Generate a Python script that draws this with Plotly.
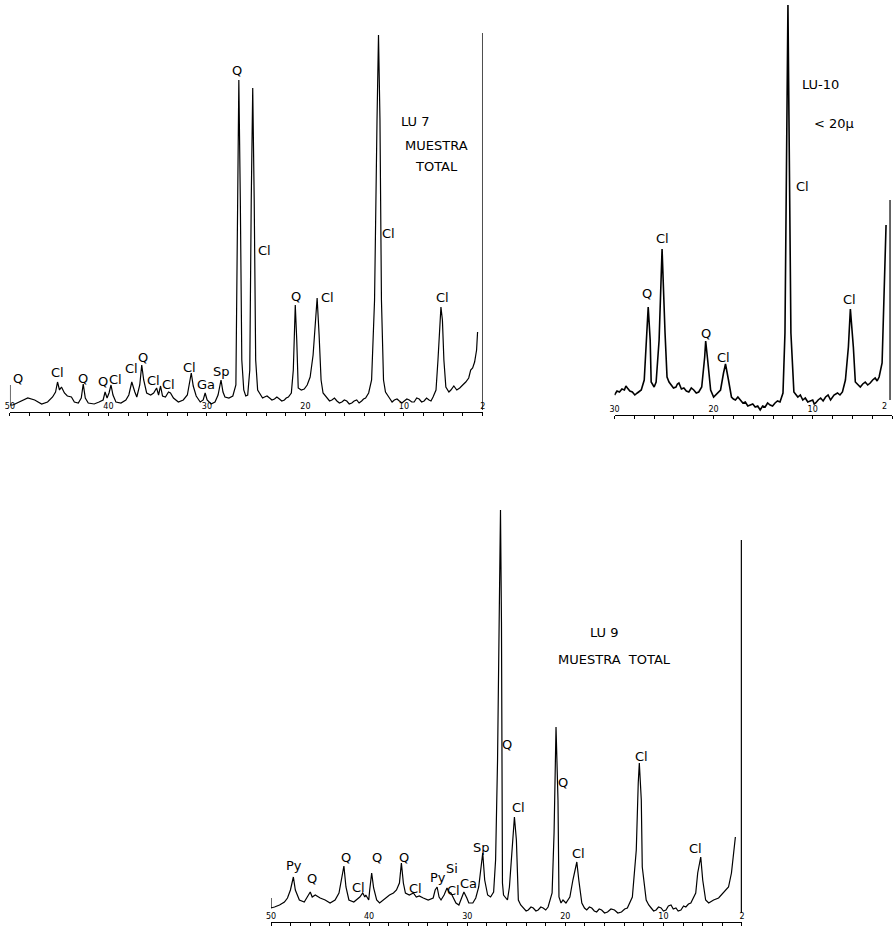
import plotly.graph_objects as go

# ---------------- DATA ----------------
# Each scan: (2-theta in degrees, recorded intensity in arbitrary chart units)
# LU 7 (muestra total)
lu7_scan = [
    (50.00, 27), (50.00, 7), (49.70, 7), (48.99, 10), (48.19, 14), (47.49, 12), (46.78, 8),
    (46.18, 10), (45.67, 15), (45.37, 20), (45.17, 30), (44.97, 22), (44.77, 25), (44.47, 19),
    (44.17, 16), (43.76, 15), (43.46, 10), (43.06, 9), (42.76, 14), (42.56, 28), (42.35, 14),
    (42.05, 9), (41.45, 8), (40.95, 10), (40.54, 12), (40.34, 20), (40.14, 14), (39.94, 19),
    (39.74, 27), (39.54, 17), (39.24, 10), (38.73, 9), (38.23, 12), (37.93, 17), (37.63, 30),
    (37.32, 20), (37.12, 15), (36.82, 27), (36.62, 47), (36.42, 32), (36.12, 19), (35.71, 17),
    (35.41, 19), (35.11, 24), (34.91, 17), (34.71, 26), (34.51, 16), (34.21, 15), (33.90, 20),
    (33.70, 19), (33.40, 14), (32.90, 10), (32.40, 12), (31.99, 17), (31.79, 27), (31.59, 39),
    (31.39, 26), (31.09, 16), (30.68, 10), (30.38, 12), (30.18, 19), (29.98, 12), (29.58, 8),
    (29.18, 10), (28.87, 17), (28.57, 32), (28.37, 20), (28.17, 15), (27.77, 14), (27.37, 16),
    (27.06, 27), (26.86, 212), (26.76, 332), (26.61, 212), (26.46, 52), (26.26, 22), (26.06, 16),
    (25.86, 17), (25.65, 42), (25.50, 212), (25.35, 324), (25.20, 212), (25.05, 52), (24.85, 22),
    (24.55, 17), (24.35, 14), (24.15, 15), (23.90, 16), (23.64, 14), (23.40, 12), (23.14, 13),
    (22.90, 15), (22.64, 13), (22.40, 11), (22.13, 12), (21.95, 14), (21.73, 15), (21.43, 19),
    (21.23, 42), (21.03, 107), (20.88, 72), (20.73, 24), (20.42, 22), (20.12, 23), (19.82, 27),
    (19.52, 35), (19.22, 57), (19.01, 92), (18.81, 114), (18.61, 77), (18.41, 32), (18.21, 19),
    (17.81, 14), (17.55, 11), (17.31, 12), (17.05, 14), (16.80, 11), (16.55, 9), (16.30, 10),
    (16.05, 12), (15.80, 11), (15.55, 8), (15.29, 9), (15.05, 11), (14.79, 12), (14.55, 9),
    (14.29, 11), (14.10, 13), (13.89, 14), (13.58, 19), (13.28, 32), (12.98, 112), (12.73, 292),
    (12.58, 377), (12.43, 292), (12.28, 112), (12.07, 32), (11.87, 20), (11.47, 14), (11.20, 10),
    (10.97, 12), (10.70, 13), (10.46, 11), (10.20, 9), (9.96, 11), (9.70, 13), (9.46, 12),
    (9.20, 10), (8.96, 10), (8.70, 14), (8.45, 13), (8.20, 10), (7.95, 11), (7.70, 14),
    (7.45, 12), (7.25, 11), (7.04, 15), (6.74, 22), (6.54, 52), (6.34, 92), (6.24, 105),
    (6.09, 92), (5.94, 52), (5.74, 25), (5.43, 20), (5.23, 22), (4.93, 26), (4.63, 22),
    (4.33, 24), (4.03, 27), (3.72, 30), (3.42, 34), (3.22, 42), (3.02, 44), (2.82, 50),
    (2.62, 62), (2.52, 80),
]
lu7_end = [(2.01, 2), (2.01, 379)]

# LU-10 (< 20 micron fraction)
lu10_scan = [
    (30.0, 20), (29.75, 24), (29.5, 23), (29.25, 26), (29.0, 25), (28.85, 29), (28.7, 27),
    (28.45, 24), (28.2, 23), (27.95, 20), (27.7, 22), (27.5, 24), (27.3, 25), (27.0, 35),
    (26.8, 75), (26.6, 108), (26.4, 75), (26.3, 33), (26.0, 28), (25.8, 33), (25.5, 75),
    (25.2, 166), (24.9, 82), (24.7, 38), (24.5, 33), (24.3, 30), (24.05, 27), (23.8, 28),
    (23.65, 31), (23.5, 32), (23.25, 26), (23.0, 27), (22.75, 24), (22.5, 23), (22.25, 27),
    (22.0, 25), (21.75, 22), (21.5, 23), (21.35, 26), (21.2, 28), (20.9, 58), (20.8, 74),
    (20.6, 55), (20.3, 25), (20.0, 18), (19.8, 20), (19.55, 23), (19.3, 25), (19.0, 42),
    (18.8, 51), (18.5, 35), (18.2, 18), (18.0, 16), (17.8, 15), (17.55, 18), (17.3, 15),
    (17.05, 12), (16.8, 13), (16.55, 9), (16.3, 10), (16.05, 11), (15.8, 8), (15.55, 9),
    (15.3, 5), (15.05, 9), (14.8, 8), (14.55, 12), (14.3, 10), (14.05, 9), (13.8, 12),
    (13.55, 14), (13.3, 13), (13.0, 22), (12.8, 82), (12.6, 300), (12.5, 410), (12.4, 300),
    (12.2, 82), (11.9, 23), (11.7, 20), (11.5, 18), (11.25, 20), (11.0, 15), (10.75, 17),
    (10.5, 13), (10.25, 14), (10.0, 15), (9.85, 11), (9.7, 12), (9.45, 15), (9.2, 17),
    (8.95, 14), (8.7, 18), (8.45, 20), (8.2, 15), (7.85, 20), (7.5, 22), (7.25, 20),
    (7.0, 23), (6.7, 35), (6.4, 68), (6.2, 106), (5.9, 68), (5.7, 33), (5.45, 30),
    (5.2, 28), (4.95, 31), (4.7, 33), (4.45, 30), (4.2, 32), (3.95, 35), (3.7, 37),
    (3.5, 34), (3.3, 38), (3.0, 52), (2.8, 115), (2.6, 190),
]
lu10_end = [(2.2, 15), (2.2, 215)]

# LU 9 (muestra total)
lu9_scan = [
    (50.00, 24), (50.00, 14), (49.64, 15), (49.13, 17), (48.63, 20), (48.32, 24), (48.02, 32),
    (47.72, 45), (47.52, 32), (47.11, 22), (46.61, 20), (46.30, 25), (46.00, 30), (45.80, 25),
    (45.49, 27), (44.99, 24), (44.48, 22), (43.98, 19), (43.47, 22), (43.07, 29), (42.87, 39),
    (42.57, 56), (42.36, 35), (42.06, 22), (41.56, 20), (41.15, 24), (40.95, 25), (40.65, 29),
    (40.44, 25), (40.34, 27), (40.04, 22), (39.94, 32), (39.74, 49), (39.54, 34), (39.23, 22),
    (38.93, 19), (38.53, 22), (38.22, 25), (37.92, 27), (37.52, 29), (37.21, 32), (36.91, 39),
    (36.71, 59), (36.51, 39), (36.30, 29), (35.90, 27), (35.49, 29), (35.19, 25), (34.89, 26),
    (34.48, 24), (33.98, 22), (33.47, 24), (33.27, 32), (33.07, 35), (32.87, 25), (32.67, 22),
    (32.36, 27), (32.06, 34), (31.86, 30), (31.66, 29), (31.45, 25), (31.15, 19), (30.85, 17),
    (30.55, 24), (30.34, 30), (30.04, 24), (29.84, 19), (29.43, 19), (29.13, 24), (28.83, 35),
    (28.63, 55), (28.42, 69), (28.22, 42), (27.92, 27), (27.62, 25), (27.31, 30), (27.11, 62),
    (26.91, 162), (26.71, 330), (26.61, 412), (26.51, 300), (26.41, 39), (26.30, 27), (25.90, 22),
    (25.70, 35), (25.39, 82), (25.19, 105), (24.99, 82), (24.79, 22), (24.55, 17), (24.28, 14),
    (24.00, 11), (23.78, 12), (23.50, 15), (23.27, 14), (23.00, 11), (22.77, 12), (22.50, 15),
    (22.26, 14), (22.00, 12), (21.76, 15), (21.35, 29), (21.15, 89), (20.95, 195), (20.75, 122),
    (20.65, 25), (20.44, 19), (20.24, 22), (19.94, 19), (19.54, 25), (19.23, 42), (18.83, 60),
    (18.63, 42), (18.32, 19), (18.05, 14), (17.82, 12), (17.55, 15), (17.31, 14), (17.05, 11),
    (16.81, 10), (16.55, 13), (16.30, 12), (16.00, 9), (15.70, 10), (15.35, 13), (14.99, 12),
    (14.65, 9), (14.28, 10), (13.95, 13), (13.68, 14), (13.17, 25), (12.77, 72), (12.57, 139),
    (12.46, 159), (12.26, 122), (12.16, 55), (11.76, 22), (11.50, 17), (11.25, 14), (11.00, 11),
    (10.75, 12), (10.50, 15), (10.24, 14), (10.00, 11), (9.74, 12), (9.50, 16), (9.23, 17),
    (9.00, 13), (8.73, 14), (8.50, 11), (8.22, 12), (7.95, 16), (7.72, 15), (7.45, 18),
    (7.21, 19), (6.71, 29), (6.51, 49), (6.20, 65), (6.00, 42), (5.70, 22), (5.39, 19),
    (4.89, 22), (4.38, 24), (3.88, 29), (3.37, 35), (3.07, 49), (2.77, 72), (2.67, 85),
]
lu9_end = [(2.06, 9), (2.06, 382)]

# Axis ticks (2-theta)
lu7_ticks = [50, 48, 46, 44, 42, 40, 38, 36, 34, 32, 30, 28, 26, 24, 22, 20, 18, 16, 14, 12, 10, 8, 6, 4, 2]
lu7_ticktext = ["50", "", "", "", "", "40", "", "", "", "", "30", "", "", "", "", "20", "", "", "", "", "10", "", "", "", "2"]
lu10_ticks = [30, 28, 26, 24, 22, 20, 18, 16, 14, 12, 10, 8, 6, 4, 2]
lu10_ticktext = ["30", "", "", "", "", "20", "", "", "", "", "10", "", "", "", ""]
lu10_edge_label = ("2", 2.0)
lu9_ticks = lu7_ticks
lu9_ticktext = lu7_ticktext

# Peak labels: (text, 2-theta, intensity)
lu7_labels = [("Q", 49.2, 34), ("Cl", 45.17, 40), ("Q", 42.56, 34), ("Q", 40.54, 31), ("Cl", 39.24, 33),
              ("Cl", 37.63, 44), ("Q", 36.52, 55), ("Cl", 35.41, 32), ("Cl", 33.90, 28), ("Cl", 31.79, 45),
              ("Ga", 30.08, 28), ("Sp", 28.47, 41), ("Q", 26.96, 342), ("Cl", 24.15, 162), ("Q", 20.93, 116),
              ("Cl", 17.71, 115), ("Cl", 11.57, 179), ("Cl", 6.04, 115)]
lu7_title = [("LU 7", 8.85, 291), ("MUESTRA", 6.74, 267), ("TOTAL", 6.74, 246)]

lu10_labels = [("Q", 26.7, 122), ("Cl", 25.2, 177), ("Q", 20.8, 82), ("Cl", 19.0, 58),
               ("Cl", 11.0, 229), ("Cl", 6.3, 116)]
lu10_title = [("LU-10", 9.2, 331), ("< 20\u03bc", 7.9, 292)]

lu9_labels = [("Py", 47.62, 57), ("Q", 45.80, 44), ("Q", 42.36, 65), ("Cl", 41.05, 35), ("Q", 39.23, 65),
              ("Q", 36.40, 65), ("Cl", 35.29, 34), ("Py", 32.97, 45), ("Si", 31.56, 54), ("Cl", 31.35, 32),
              ("Ca", 29.84, 39), ("Sp", 28.53, 75), ("Q", 25.90, 178), ("Cl", 24.79, 115), ("Q", 20.24, 140),
              ("Cl", 18.62, 69), ("Cl", 12.26, 166), ("Cl", 6.71, 74)]
lu9_title = [("LU 9", 16.0, 290), ("MUESTRA  TOTAL", 15.0, 263)]

# ---------------- FIGURE ----------------
W, H = 895, 926
FONT = "DejaVu Sans"
fig = go.Figure()

panels = [
    ("x", "y", lu7_scan, lu7_end, 1.2),
    ("x2", "y2", lu10_scan, lu10_end, 1.6),
    ("x3", "y3", lu9_scan, lu9_end, 1.2),
]
for xa, ya, scan, end, lw in panels:
    fig.add_trace(go.Scatter(x=[p[0] for p in scan], y=[p[1] for p in scan], mode="lines",
                             xaxis=xa, yaxis=ya, line=dict(color="black", width=lw),
                             hoverinfo="skip", showlegend=False))
    fig.add_trace(go.Scatter(x=[p[0] for p in end], y=[p[1] for p in end], mode="lines",
                             xaxis=xa, yaxis=ya, line=dict(color="black", width=1.2),
                             hoverinfo="skip", showlegend=False))


def xax(domain, rng, tv, tt, anchor):
    return dict(domain=domain, range=rng, anchor=anchor, showgrid=False, zeroline=False,
                showline=True, linecolor="black", linewidth=1, ticks="outside", ticklen=3,
                tickcolor="black", tickwidth=1, tickvals=tv, ticktext=tt,
                ticklabelposition="inside", ticklabeloverflow="allow",
                tickfont=dict(family=FONT, size=8, color="black"))


def yax(domain, rng, anchor):
    return dict(domain=domain, range=rng, anchor=anchor, showgrid=False, zeroline=False,
                showline=False, showticklabels=False, ticks="")


fig.update_layout(
    width=W, height=H, margin=dict(l=0, r=0, t=0, b=0),
    paper_bgcolor="white", plot_bgcolor="white", showlegend=False,
    xaxis=xax([5 / W, 482 / W], [50, 2], lu7_ticks, lu7_ticktext, "y"),
    yaxis=yax([(H - 412) / H, 1.0], [0, 412], "x"),
    xaxis2=xax([615 / W, 1.0], [30, 2], lu10_ticks, lu10_ticktext, "y2"),
    yaxis2=yax([(H - 415) / H, 1.0], [0, 415], "x2"),
    xaxis3=xax([268.4 / W, 743.6 / W], [50, 2], lu9_ticks, lu9_ticktext, "y3"),
    yaxis3=yax([(H - 922) / H, (H - 490) / H], [0, 432], "x3"),
)

annotations = []
for xa, ya, labels, size in [("x", "y", lu7_labels, 13), ("x", "y", lu7_title, 13),
                             ("x2", "y2", lu10_labels, 13), ("x2", "y2", lu10_title, 13),
                             ("x3", "y3", lu9_labels, 13), ("x3", "y3", lu9_title, 13)]:
    for txt, tx, ty in labels:
        annotations.append(dict(text=txt, x=tx, y=ty, xref=xa, yref=ya, showarrow=False,
                                xanchor="center", yanchor="middle",
                                font=dict(family=FONT, size=size, color="black")))
# tick label at the right edge of the LU-10 axis (kept inside the page)
annotations.append(dict(text=lu10_edge_label[0], x=lu10_edge_label[1], y=0, xref="x2", yref="y2",
                        showarrow=False, xanchor="right", yanchor="bottom", xshift=-3, yshift=2,
                        font=dict(family=FONT, size=8, color="black")))
fig.update_layout(annotations=annotations)

fig.write_html("out.html", config={"displayModeBar": False},
               post_script="document.body.style.margin='0px';document.body.style.padding='0px';")
